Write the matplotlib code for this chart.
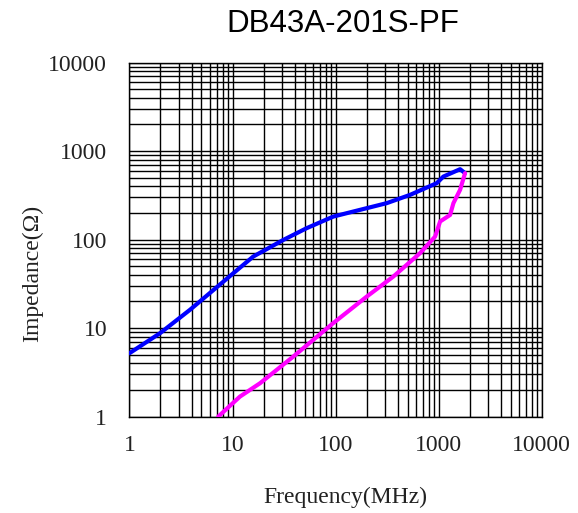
import matplotlib.pyplot as plt
from matplotlib.ticker import LogLocator, FixedLocator, NullFormatter

# impedance curves (MHz, ohm)
blue_freq = [1, 1.98, 3.87, 10.2, 15.9, 31.1, 52.5, 95.2, 314, 529, 960, 1113, 1618, 1808]
blue_z = [5.2, 8.75, 16.1, 41.7, 64.3, 99, 134.6, 182, 258, 320, 434, 515, 624, 563]

pink_freq = [7.28, 11.8, 18.5, 38.9, 95.2, 201, 364, 661, 925, 1035, 1295, 1394, 1618, 1808]
pink_z = [1.0, 1.68, 2.38, 4.76, 11.4, 22.7, 38.2, 70.2, 108, 160, 190, 258, 365, 563]

ticks = [1, 10, 100, 1000, 10000]
tick_labels = ["1", "10", "100", "1000", "10000"]

fig = plt.figure(figsize=(5.78, 5.13), dpi=100)
ax = fig.add_axes([0.224, 0.188, 0.713, 0.690])

ax.plot(blue_freq, blue_z, color="#0000ff", linewidth=3, solid_capstyle="round", zorder=3)
ax.plot(pink_freq, pink_z, color="#ff00ff", linewidth=3, solid_capstyle="round", zorder=3, clip_on=True)

ax.set_xscale("log")
ax.set_yscale("log")
ax.set_xlim(1, 10000)
ax.set_ylim(1, 10000)

ax.xaxis.set_major_locator(FixedLocator(ticks))
ax.yaxis.set_major_locator(FixedLocator(ticks))
ax.set_xticklabels(tick_labels)
ax.set_yticklabels(tick_labels)
ax.xaxis.set_minor_locator(LogLocator(base=10, subs=range(2, 10), numticks=20))
ax.yaxis.set_minor_locator(LogLocator(base=10, subs=range(2, 10), numticks=20))
ax.xaxis.set_minor_formatter(NullFormatter())
ax.yaxis.set_minor_formatter(NullFormatter())

ax.grid(True, which="both", color="black", linewidth=1.0)
ax.set_axisbelow(True)
for s in ax.spines.values():
    s.set_color("black")
    s.set_linewidth(1.0)

ax.tick_params(which="both", length=0)
ax.tick_params(axis="x", pad=13)
ax.tick_params(axis="y", pad=16)
for lab in ax.get_xticklabels() + ax.get_yticklabels():
    lab.set_fontfamily("Liberation Serif")
    lab.set_fontsize(17)
    lab.set_color("#222222")

fig.text(343 / 578, 1 - 24 / 513, "DB43A-201S-PF", family="Liberation Sans",
         fontsize=22.5, ha="center", va="center")
fig.text(345 / 578, 1 - 497 / 513, "Frequency(MHz)", family="Liberation Serif",
         fontsize=17, ha="center", va="center", color="#222222")
fig.text(33 / 578, 1 - 273 / 513, "Impedance(Ω)", family="Liberation Serif",
         fontsize=17, ha="center", va="center", rotation=90, color="#222222")

plt.savefig("out.png", dpi=100)
